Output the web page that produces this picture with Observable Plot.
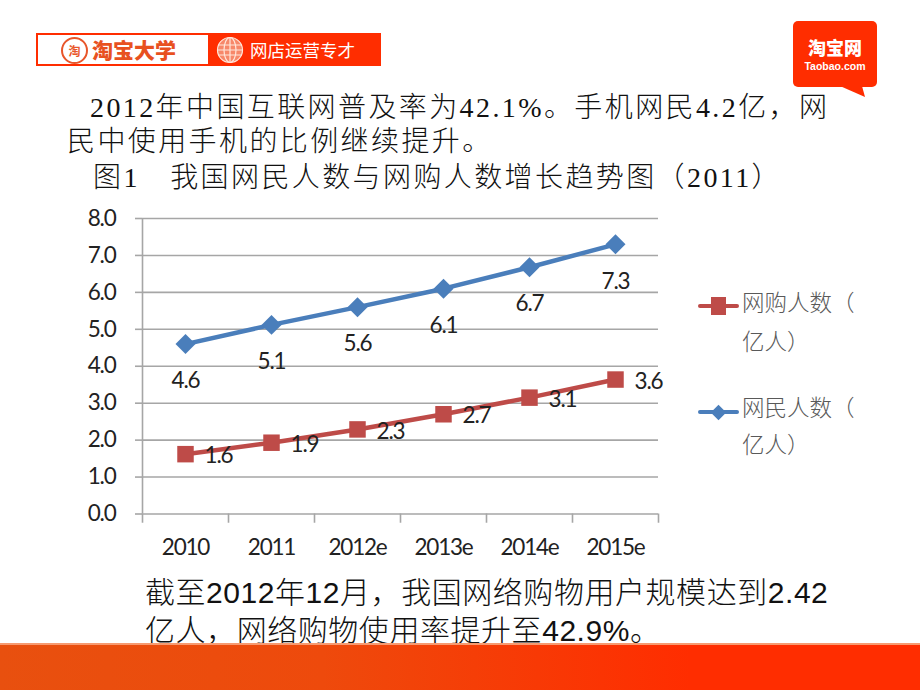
<!DOCTYPE html>
<html>
<head>
<meta charset="utf-8">
<script src="https://cdn.jsdelivr.net/npm/d3@7"></script>
<script src="https://cdn.jsdelivr.net/npm/@observablehq/plot@0.6"></script>
<style>
html,body{margin:0;padding:0;background:#fff;}
#page{position:relative;width:920px;height:690px;overflow:hidden;font-family:"Noto Sans CJK SC",sans-serif;}
.abs{position:absolute;white-space:nowrap;}
.serif{font-family:"Liberation Serif","Noto Sans CJK SC",serif;font-size:28px;letter-spacing:2.4px;color:#111;font-weight:300;line-height:34px;}
.sans{font-family:"Liberation Sans","Noto Sans CJK SC",sans-serif;font-size:30px;color:#111;font-weight:300;line-height:38px;letter-spacing:0.55px;}
.leg{font-size:22.5px;color:#595959;font-weight:300;line-height:30px;}
#chart{position:absolute;left:0;top:200px;}
#chart svg{display:block;overflow:visible;}
</style>
</head>
<body>
<div id="page">
  <!-- banner -->
  <div class="abs" style="left:36px;top:33px;width:345px;height:33px;background:#ff2d00;"></div>
  <div class="abs" style="left:38px;top:35px;width:170px;height:29px;background:#fff;"></div>
  <div class="abs" style="left:61px;top:37px;width:23px;height:23px;border-radius:50%;border:2px solid #e8562a;color:#e8562a;font-size:12px;line-height:23px;text-align:center;font-weight:700;">淘</div>
  <div class="abs" style="left:92px;top:33px;font-size:21px;line-height:33px;font-weight:900;color:#e8511f;">淘宝大学</div>
  <svg class="abs" style="left:216px;top:36px;" width="28" height="28" fill="none" stroke="#ffe6da" stroke-width="1.2">
    <circle cx="14" cy="14" r="12.5" fill="#f7886a"></circle>
    <ellipse cx="14" cy="14" rx="6" ry="12.5"></ellipse>
    <path d="M14 1.5V26.5M2 9H26M1.5 14H26.5M2 19H26"></path>
  </svg>
  <div class="abs" style="left:250px;top:33px;font-size:17.5px;line-height:33px;color:#fff;">网店运营专才</div>
  <!-- taobao logo -->
  <div class="abs" style="left:793px;top:21px;width:84px;height:66px;background:#ff2d00;border-radius:5px;"></div>
  <svg class="abs" style="left:840px;top:80px;" width="30" height="20"><polygon points="0,6 22,6 25,17" fill="#ff2d00"></polygon></svg>
  <div class="abs" style="left:793px;top:37px;width:84px;height:20px;text-align:center;font-size:18px;line-height:20px;font-weight:900;color:#fff;">淘宝网</div>
  <div class="abs" style="left:793px;top:60px;width:84px;height:12px;text-align:center;font-family:'Liberation Sans';font-size:10.5px;line-height:12px;font-weight:700;color:#fff;">Taobao.com</div>
  <!-- heading text -->
  <div class="abs serif" style="left:90px;top:91px;">2012年中国互联网普及率为42.1%。手机网民4.2亿，网</div>
  <div class="abs serif" style="left:67px;top:125px;">民中使用手机的比例继续提升。</div>
  <div class="abs serif" style="left:93px;top:161px;">图1　我国网民人数与网购人数增长趋势图（2011）</div>
  <!-- chart -->
  <div id="chart"></div>
  <!-- legend -->
  <div class="abs" style="left:698px;top:304px;width:41px;height:4px;background:#be4b48;border-radius:2px;"></div>
  <div class="abs" style="left:711px;top:297px;width:15px;height:18px;background:#be4b48;"></div>
  <div class="abs leg" style="left:742px;top:286px;">网购人数（</div>
  <div class="abs leg" style="left:742px;top:325px;">亿人）</div>
  <div class="abs" style="left:698px;top:410px;width:41px;height:4px;background:#4a7ebb;border-radius:2px;"></div>
  <div class="abs" style="left:713px;top:407px;width:11px;height:11px;background:#4a7ebb;transform:rotate(45deg);"></div>
  <div class="abs leg" style="left:742px;top:391px;">网民人数（</div>
  <div class="abs leg" style="left:742px;top:428px;">亿人）</div>
  <!-- caption -->
  <div class="abs sans" style="left:145px;top:574px;">截至2012年12月，我国网络购物用户规模达到2.42</div>
  <div class="abs sans" style="left:145px;top:612px;">亿人，网络购物使用率提升至42.9%。</div>
  <!-- footer band -->
  <div class="abs" style="left:0;top:643px;width:920px;height:47px;background:linear-gradient(90deg,#e8500f 0%,#ee4a0c 35%,#ff2d00 75%,#ff2d00 100%);border-top:2px solid #f79a70;box-sizing:border-box;"></div>
</div>
<script>
const categories = ["2010", "2011", "2012e", "2013e", "2014e", "2015e"];
const netizens = [4.6, 5.12, 5.6, 6.1, 6.68, 7.3];
const netizenLabels = ["4.6", "5.1", "5.6", "6.1", "6.7", "7.3"];
const shoppers = [1.62, 1.93, 2.29, 2.7, 3.15, 3.64];
const shopperLabels = ["1.6", "1.9", "2.3", "2.7", "3.1", "3.6"];
const yTicks = [0, 1, 2, 3, 4, 5, 6, 7, 8];
const slots = [0, 1, 2, 3, 4, 5];
const slotEdges = [0, 1, 2, 3, 4, 5, 6];

const blue = "#4a7ebb", red = "#be4b48", grid = "#a6a6a6", ink = "#222";
const rows = (vals, labels) => slots.map(i => ({pos: i + 0.5, v: vals[i], label: labels[i]}));
const blueRows = rows(netizens, netizenLabels);
const redRows = rows(shoppers, shopperLabels);
const font = "Lato, 'Open Sans', sans-serif";
const labelSize = 22.5;

const chart = Plot.plot({
  width: 920,
  height: 370,
  marginLeft: 142,
  marginRight: 262,
  marginTop: 18,
  marginBottom: 56.5,
  style: {background: "transparent", fontFamily: font, fontSize: "21px", color: "#111", letterSpacing: "-1.2px"},
  x: {type: "linear", domain: [0, 6], axis: null},
  y: {type: "linear", domain: [0, 8], axis: null},
  marks: [
    Plot.ruleY(yTicks, {stroke: grid, strokeWidth: 1.6, strokeOpacity: 1}),
    Plot.axisY(yTicks, {anchor: "left", tickSize: 7, tickPadding: 20, stroke: grid, strokeWidth: 1.6, strokeOpacity: 1,
      tickFormat: d3.format(".1f"), label: null, fontSize: labelSize, fill: ink}),
    Plot.ruleX(slotEdges, {y1: -0.25, y2: 0, stroke: grid, strokeWidth: 1.6}),
    Plot.ruleX([0], {y1: 0, y2: 8, stroke: grid, strokeWidth: 1.6}),
    Plot.axisX(slots.map(i => i + 0.5), {anchor: "bottom", tickSize: 0, tickPadding: 25,
      tickFormat: d => categories[d - 0.5], label: null, fontSize: labelSize, fill: ink}),
    Plot.line(redRows, {x: "pos", y: "v", stroke: red, strokeWidth: 4.5}),
    Plot.line(blueRows, {x: "pos", y: "v", stroke: blue, strokeWidth: 4.5}),
    Plot.dot(redRows, {x: "pos", y: "v", symbol: "square", r: 9.3, fill: red, stroke: "none"}),
    Plot.dot(blueRows, {x: "pos", y: "v", symbol: "diamond2", r: 9, fill: blue, stroke: "none"}),
    Plot.text(blueRows, {x: "pos", y: "v", text: "label", dy: 37, fontSize: labelSize, fill: ink}),
    Plot.text(redRows, {x: "pos", y: "v", text: "label", dx: 33, dy: 2, fontSize: labelSize, fill: ink})
  ]
});
document.getElementById("chart").appendChild(chart);
</script>
</body>
</html>
